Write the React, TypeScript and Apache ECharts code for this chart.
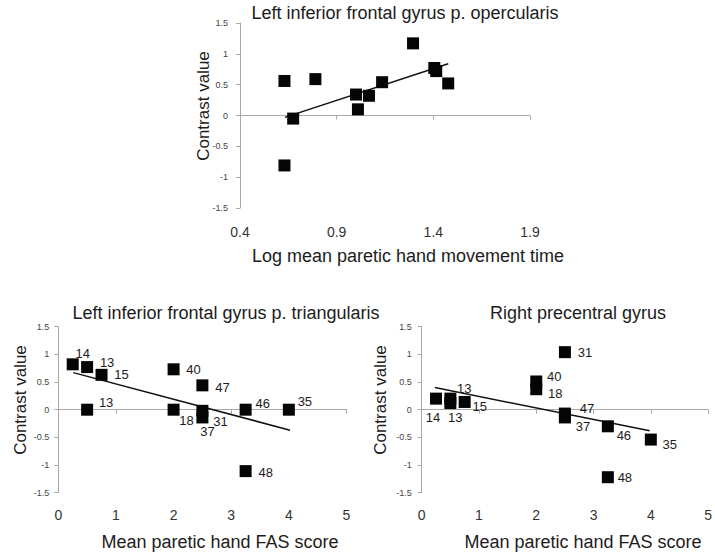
import React, { useEffect, useRef } from "react";
import * as echarts from "echarts";

// ---------- Data ----------
// Panel A: Left inferior frontal gyrus p. opercularis
const topX = [0.63, 0.63, 0.675, 0.79, 1.0, 1.01, 1.067, 1.135, 1.295, 1.405, 1.415, 1.477];
const topY = [0.56, -0.81, -0.05, 0.59, 0.34, 0.1, 0.32, 0.54, 1.17, 0.77, 0.72, 0.52];
const topTrendX = [0.632, 1.477];
const topTrendY = [-0.03, 0.84];

// Panel B: Left inferior frontal gyrus p. triangularis
const leftLabels = ["14", "13", "15", "13", "40", "47", "18", "31", "37", "46", "35", "48"];
const leftX = [0.25, 0.5, 0.75, 0.5, 2, 2.5, 2, 2.5, 2.5, 3.25, 4, 3.25];
const leftY = [0.82, 0.77, 0.63, 0, 0.73, 0.44, 0, -0.02, -0.14, 0, 0, -1.11];
const leftTrendX = [0.26, 4.02];
const leftTrendY = [0.67, -0.37];

// Panel C: Right precentral gyrus
const rightLabels = ["14", "13", "13", "15", "40", "18", "31", "47", "37", "46", "35", "48"];
const rightX = [0.25, 0.5, 0.5, 0.75, 2, 2, 2.5, 2.5, 2.5, 3.25, 4, 3.25];
const rightY = [0.2, 0.2, 0.12, 0.14, 0.51, 0.37, 1.04, -0.07, -0.14, -0.3, -0.54, -1.22];
const rightTrendX = [0.23, 3.98];
const rightTrendY = [0.4, -0.38];

// Tick settings
const topXTicks = { min: 0.4, max: 1.9, interval: 0.5 };
const fasTicks = { min: 0, max: 5, interval: 1 };
const contrastTicks = { min: -1.5, max: 1.5, interval: 0.5 };

// Texts
const titles = [
  "Left inferior frontal gyrus p. opercularis",
  "Left inferior frontal gyrus p. triangularis",
  "Right precentral gyrus",
];
const xTitles = ["Log mean paretic hand movement time", "Mean paretic hand FAS score", "Mean paretic hand FAS score"];
const yTitle = "Contrast value";

// Label placement (pixel offsets of each label centre from its point)
const leftLabelOffsets = [
  [10, -11], [20, -5], [20, 0], [19, -7], [20, 0], [20, 2],
  [13, 11], [18, 11], [5, 14], [17, -6], [16, -8], [20, 1],
];
const rightLabelOffsets = [
  [-3, 19], [14, -10], [5, 14], [15, 5], [18, -5], [19, 4],
  [20, 0], [22, -5], [18, 9], [16, 9], [19, 5], [17, 0],
];

// ---------- Styles ----------
const FONT = "'Liberation Sans', Arial, Helvetica, sans-serif";
const AXIS_GRAY = "#a8a8a8";
const TEXT = "#1c1c1c";

function yAxisFor(gridIndex: number, margin: number) {
  return {
    type: "value",
    gridIndex,
    ...contrastTicks,
    axisLine: { show: true, onZero: false, lineStyle: { color: AXIS_GRAY, width: 1 } },
    axisTick: { show: true, length: 4, lineStyle: { color: AXIS_GRAY } },
    axisLabel: { fontSize: 9, color: "#444", margin, fontFamily: FONT },
    splitLine: { show: false },
  };
}

function xAxesFor(gridIndex: number, ticks: { min: number; max: number; interval: number }, margin: number) {
  return [
    {
      type: "value",
      gridIndex,
      position: "top",
      ...ticks,
      axisLine: { show: true, onZero: true, lineStyle: { color: AXIS_GRAY, width: 1 } },
      axisTick: { show: true, inside: true, length: 4, lineStyle: { color: AXIS_GRAY } },
      axisLabel: { show: false },
      splitLine: { show: false },
    },
    {
      type: "value",
      gridIndex,
      position: "bottom",
      ...ticks,
      axisLine: { show: false, onZero: false },
      axisTick: { show: false },
      axisLabel: { fontSize: 14, color: "#333", margin, fontFamily: FONT },
      splitLine: { show: false },
    },
  ];
}

function trendSeries(axisIdx: number, xs: number[], ys: number[]) {
  return {
    type: "line",
    xAxisIndex: axisIdx * 2,
    yAxisIndex: axisIdx,
    data: xs.map((x, i) => [x, ys[i]]),
    symbol: "none",
    silent: true,
    lineStyle: { color: "#111", width: 1.5 },
    z: 2,
  };
}

function scatterSeries(axisIdx: number, xs: number[], ys: number[], labels?: string[], offsets?: number[][]) {
  return {
    type: "scatter",
    xAxisIndex: axisIdx * 2,
    yAxisIndex: axisIdx,
    symbol: "rect",
    symbolSize: 12,
    itemStyle: { color: "#050505", opacity: 1 },
    z: 3,
    label: labels
      ? { show: true, position: "inside", formatter: "{b}", color: TEXT, fontSize: 13, fontFamily: FONT }
      : { show: false },
    data: xs.map((x, i) =>
      labels
        ? { name: labels[i], value: [x, ys[i]], label: { offset: offsets ? offsets[i] : [0, 0] } }
        : { value: [x, ys[i]] }
    ),
  };
}

function textEl(text: string, x: number, y: number, size: number, rotate = false) {
  return {
    type: "text",
    x,
    y,
    rotation: rotate ? Math.PI / 2 : 0,
    style: {
      text,
      fill: TEXT,
      fontSize: size,
      fontFamily: FONT,
      textAlign: "center",
      textVerticalAlign: "middle",
    },
  };
}

const option = {
  animation: false,
  backgroundColor: "#ffffff",
  textStyle: { fontFamily: FONT },
  grid: [
    { left: 240, top: 23, width: 290, height: 185 },
    { left: 58.3, top: 326.7, width: 288.2, height: 166 },
    { left: 421.7, top: 326.7, width: 289, height: 166 },
  ],
  xAxis: [
    ...xAxesFor(0, topXTicks, 17),
    ...xAxesFor(1, fasTicks, 15),
    ...xAxesFor(2, fasTicks, 15),
  ],
  yAxis: [yAxisFor(0, 12), yAxisFor(1, 9), yAxisFor(2, 10)],
  series: [
    trendSeries(0, topTrendX, topTrendY),
    scatterSeries(0, topX, topY),
    trendSeries(1, leftTrendX, leftTrendY),
    scatterSeries(1, leftX, leftY, leftLabels, leftLabelOffsets),
    trendSeries(2, rightTrendX, rightTrendY),
    scatterSeries(2, rightX, rightY, rightLabels, rightLabelOffsets),
  ],
  graphic: [
    textEl(titles[0], 405, 13, 18),
    textEl(titles[1], 226, 313, 18),
    textEl(titles[2], 578, 313, 18),
    textEl(xTitles[0], 408, 256, 18),
    textEl(xTitles[1], 220, 542, 18),
    textEl(xTitles[2], 583, 542, 18),
    textEl(yTitle, 203, 106, 17, true),
    textEl(yTitle, 20, 400, 17, true),
    textEl(yTitle, 380, 400, 17, true),
  ],
};

export default function App() {
  const ref = useRef<HTMLDivElement>(null);
  useEffect(() => {
    if (!ref.current) return;
    const chart = echarts.init(ref.current, null, { renderer: "svg" });
    chart.setOption(option as any);
    return () => chart.dispose();
  }, []);
  return (
    <div
      ref={ref}
      style={{ position: "fixed", left: 0, top: 0, width: 715, height: 556, background: "#fff" }}
    />
  );
}
